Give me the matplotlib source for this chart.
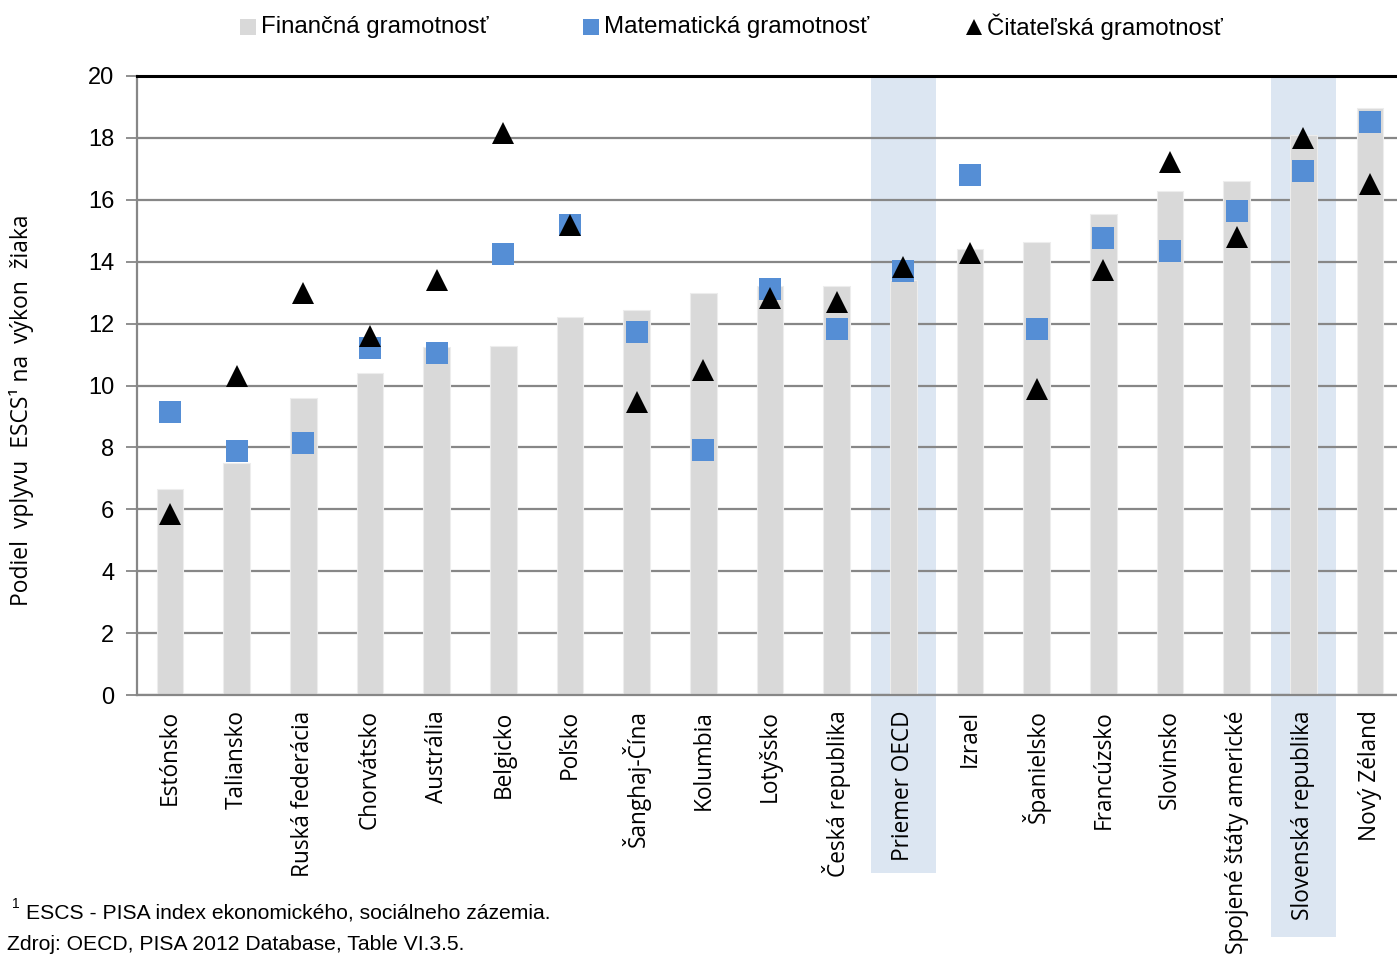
import matplotlib
matplotlib.use("Agg")
import matplotlib.pyplot as plt
from matplotlib.patches import Rectangle
from matplotlib.lines import Line2D
import matplotlib.transforms as mtransforms
from matplotlib import font_manager

categories = ["Estónsko", "Taliansko", "Ruská federácia", "Chorvátsko", "Austrália",
              "Belgicko", "Poľsko", "Šanghaj-Čína", "Kolumbia", "Lotyšsko",
              "Česká republika", "Priemer OECD", "Izrael", "Španielsko", "Francúzsko",
              "Slovinsko", "Spojené štáty americké", "Slovenská republika", "Nový Zéland"]
financna = [6.66, 7.5, 9.6, 10.4, 11.24, 11.28, 12.21, 12.44, 13.0, 13.2,
            13.23, 13.4, 14.4, 14.63, 15.54, 16.3, 16.6, 18.1, 18.96]
matematicka = [9.14, 7.88, 8.14, 11.21, 11.05, 14.25, 15.19, 11.73, 7.92, 13.13,
               11.83, 13.7, 16.8, 11.83, 14.75, 14.35, 15.64, 16.93, 18.5]
citatelska = [5.85, 10.3, 13.0, 11.6, 13.4, 18.16, 15.19, 9.47, 10.5, 12.82,
              12.7, 13.84, 14.28, 9.89, 13.73, 17.22, 14.8, 18.0, 16.5]
highlighted = ["Priemer OECD", "Slovenská republika"]
yticks = [0, 2, 4, 6, 8, 10, 12, 14, 16, 18, 20]

available = {f.name for f in font_manager.fontManager.ttflist}
narrow = "Liberation Sans Narrow" if "Liberation Sans Narrow" in available else "Liberation Sans"
main_font = "Open Sans"

W, H = 1397, 960
fig = plt.figure(figsize=(W / 100, H / 100), dpi=100)
ax_left, ax_right, ax_top, ax_bot = 136.7, 1403.3, 76, 695
ax = fig.add_axes([ax_left / W, (H - ax_bot) / H, (ax_right - ax_left) / W, (ax_bot - ax_top) / H])

x = list(range(len(categories)))
ax.set_xlim(-0.5, len(categories) - 0.5)
ax.set_ylim(0, 20)

# highlight bands extending below the axis
band_depth = {"Priemer OECD": -(873 - ax_bot) / (ax_bot - ax_top),
              "Slovenská republika": -(937 - ax_bot) / (ax_bot - ax_top)}
trans = mtransforms.blended_transform_factory(ax.transData, ax.transAxes)
for name in highlighted:
    i = categories.index(name)
    d = band_depth[name]
    ax.add_patch(Rectangle((i - 0.485, d), 0.97, 1 - d, transform=trans,
                           facecolor="#DCE6F2", edgecolor="none", clip_on=False, zorder=0))

ax.set_axisbelow(True)
ax.yaxis.grid(True, color="#878787", linewidth=1.6, zorder=1)
ax.bar(x, financna, width=0.4, color="#D9D9D9", edgecolor="#EDEDED", linewidth=0.8, zorder=2)
ax.plot(x, matematicka, linestyle="none", marker="s", markersize=15.8,
        color="#558ED5", markeredgewidth=0, zorder=3)
ax.plot(x, citatelska, linestyle="none", marker="^", markersize=15.5,
        color="black", markeredgewidth=0, zorder=4)

ax.set_yticks(yticks)
ax.set_yticklabels([str(v) for v in yticks], fontsize=17, family=narrow)
ax.tick_params(axis="y", length=8, width=1.3, color="#878787", pad=8)
ax.set_xticks(x)
ax.set_xticklabels(categories, rotation=90, fontsize=16.3, family=main_font)
ax.tick_params(axis="x", length=0, pad=11)

for s in ["left", "bottom"]:
    ax.spines[s].set_color("#878787")
    ax.spines[s].set_linewidth(1.6)
ax.spines["top"].set_color("black")
ax.spines["top"].set_linewidth(2.2)
ax.spines["right"].set_visible(False)
for lab in ax.get_xticklabels():
    lab.set_zorder(5)

# y label
fig.text(22 / W, 1 - 410 / H, "Podiel  vplyvu  ESCS¹ na  výkon  žiaka", rotation=90,
         ha="center", va="center", fontsize=16.5, family=main_font)

# legend
leg_y = 1 - 27 / H
fig.add_artist(Line2D([248 / W], [leg_y], marker="s", markersize=11.5, color="#D9D9D9",
                      markeredgewidth=0, linestyle="none", transform=fig.transFigure))
fig.add_artist(Line2D([591 / W], [leg_y], marker="s", markersize=11.5, color="#558ED5",
                      markeredgewidth=0, linestyle="none", transform=fig.transFigure))
fig.add_artist(Line2D([974 / W], [leg_y], marker="^", markersize=11.5, color="black",
                      markeredgewidth=0, linestyle="none", transform=fig.transFigure))
fig.text(261 / W, leg_y, "Finančná gramotnosť", ha="left", va="center", fontsize=17.3, family=narrow)
fig.text(604 / W, leg_y, "Matematická gramotnosť", ha="left", va="center", fontsize=17.3, family=narrow)
fig.text(987 / W, leg_y, "Čitateľská gramotnosť", ha="left", va="center", fontsize=17.3, family=narrow)

# footnotes
fig.text(12 / W, 1 - 904 / H, "1", ha="left", va="center", fontsize=10, family=narrow)
fig.text(26 / W, 1 - 913 / H, "ESCS - PISA index ekonomického, sociálneho zázemia.",
         ha="left", va="center", fontsize=15.2, family=narrow)
fig.text(7 / W, 1 - 945 / H, "Zdroj: OECD, PISA 2012 Database, Table VI.3.5.",
         ha="left", va="center", fontsize=15.2, family=narrow)

fig.savefig("out.png", dpi=100)
